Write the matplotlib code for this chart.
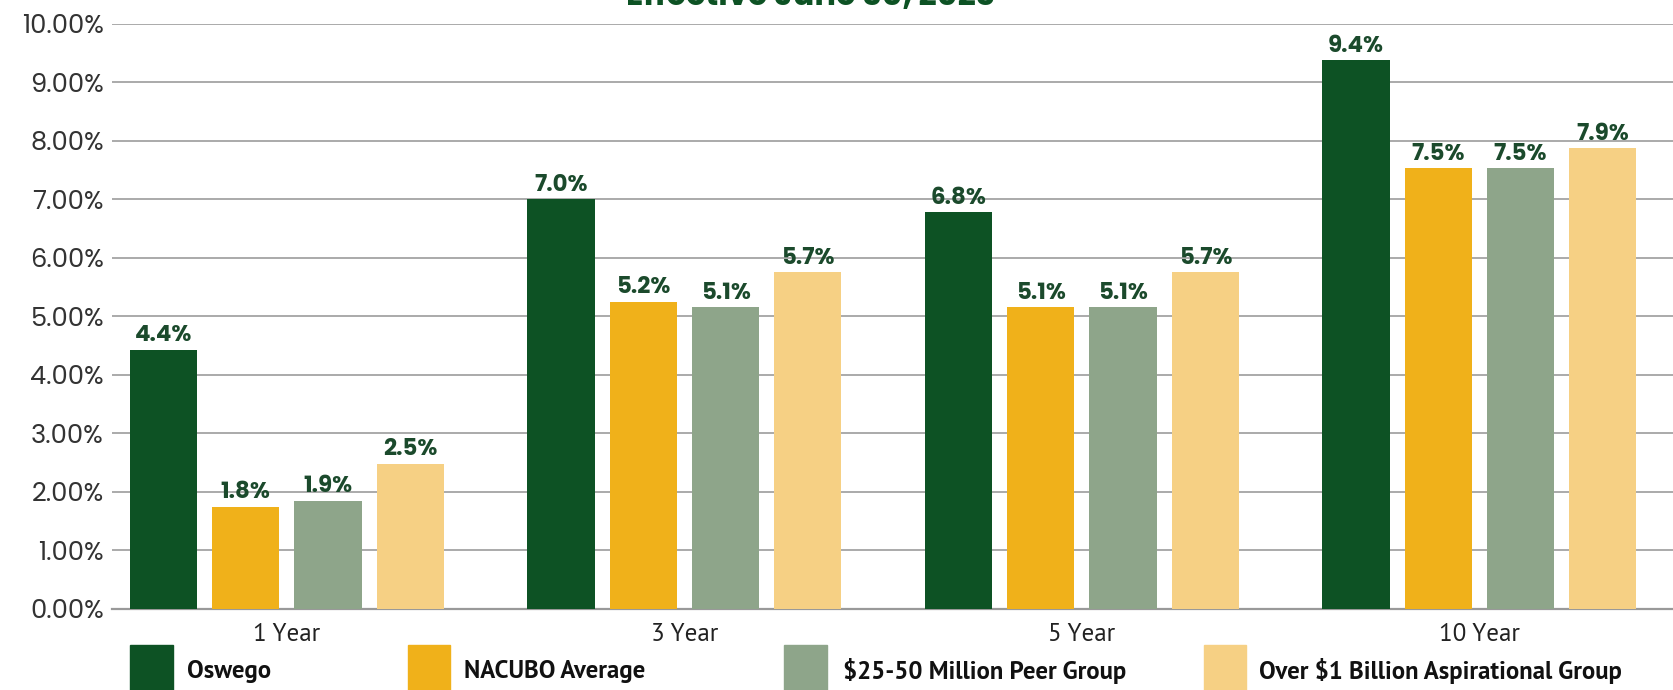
import matplotlib
matplotlib.use("Agg")
import matplotlib.pyplot as plt
from matplotlib.patches import Rectangle
from matplotlib import font_manager
import numpy as np

categories = ["1 Year", "3 Year", "5 Year", "10 Year"]
series_names = ["Oswego", "NACUBO Average", "$25-50 Million Peer Group",
                "Over $1 Billion Aspirational Group"]
oswego = [4.43, 7.00, 6.78, 9.37]
nacubo = [1.75, 5.25, 5.15, 7.53]
peer = [1.85, 5.15, 5.15, 7.53]
aspirational = [2.48, 5.75, 5.75, 7.87]
oswego_labels = ["4.4%", "7.0%", "6.8%", "9.4%"]
nacubo_labels = ["1.8%", "5.2%", "5.1%", "7.5%"]
peer_labels = ["1.9%", "5.1%", "5.1%", "7.5%"]
aspirational_labels = ["2.5%", "5.7%", "5.7%", "7.9%"]
yticks = [0, 1, 2, 3, 4, 5, 6, 7, 8, 9, 10]
title = "Effective June 30, 2023"

colors = ["#0d5224", "#f0b11a", "#8ea58a", "#f6d084"]
label_color = "#1b4a2c"

_weights = {}
for _f in font_manager.fontManager.ttflist:
    _weights.setdefault(_f.name, set()).add(_f.weight)


def pick(cands, need=(400, 700), default="DejaVu Sans"):
    for c in cands:
        w = _weights.get(c, set())
        if all(n in w for n in need):
            return c
    return default


geo = pick(["Montserrat", "Poppins", "Figtree", "Mulish", "Lato"])
myriad = pick(["Source Sans 3", "Source Sans Pro", "PT Sans", "Noto Sans"],
              need=(400, 600))
if myriad == "DejaVu Sans":
    myriad = pick(["Source Sans 3", "Source Sans Pro", "PT Sans", "Noto Sans"])

W, H = 1673, 690
fig = plt.figure(figsize=(W / 100, H / 100), dpi=100)
ax = fig.add_axes([112 / W, 1 - 609 / H, 1 - 112 / W, (609 - 23.5) / H])

series = [oswego, nacubo, peer, aspirational]
labels = [oswego_labels, nacubo_labels, peer_labels, aspirational_labels]
x = np.arange(len(categories))
step = 0.207
width = 0.169
for i, (vals, labs) in enumerate(zip(series, labels)):
    pos = x + (i - 1.5) * step
    ax.bar(pos, vals, width=width, color=colors[i], zorder=3)
    for p, v, l in zip(pos, vals, labs):
        ax.text(p, v + 0.04, l, ha="center", va="bottom", fontsize=16.5,
                fontweight="bold", color=label_color, family=geo, zorder=4)

ax.set_xlim(-0.44, 3.487)
ax.set_ylim(0, 10)
ax.set_yticks(yticks)
ax.set_yticklabels([f"{t:.2f}%" for t in yticks], fontsize=18.5, color="#333333",
                   family=geo)
ax.yaxis.grid(True, color="#aaaaaa", linewidth=1.4, zorder=0)
ax.set_axisbelow(True)
for s in ["left", "right", "top"]:
    ax.spines[s].set_visible(False)
ax.spines["bottom"].set_color("#999999")
ax.spines["bottom"].set_linewidth(1.6)
ax.tick_params(axis="y", length=0, pad=6)
ax.tick_params(axis="x", length=0, pad=10)
ax.set_xticks(x)
ax.set_xticklabels(categories, fontsize=18, color="#222222", family=myriad)

# partially visible title at top edge
fig.text(811 / W, 1 - 5 / H, title, ha="center", va="baseline", fontsize=23,
         fontweight="bold", color="#0d5224", family=geo)

# legend drawn manually
s = 1673 / 1568
leg_marker_x = [122, 382, 735, 1128]
leg_text_x = [175, 435, 790, 1180]
for i in range(4):
    fig.add_artist(Rectangle((leg_marker_x[i] * s / W, 0), 40 * s / W, 42 * s / H,
                             transform=fig.transFigure, color=colors[i]))
    fig.text(leg_text_x[i] * s / W, 1 - 629 * s / H, series_names[i], ha="left",
             va="center", fontsize=17.8, fontweight="semibold", color="#111111",
             family=myriad)

fig.savefig("out.png", dpi=100, facecolor="white")
